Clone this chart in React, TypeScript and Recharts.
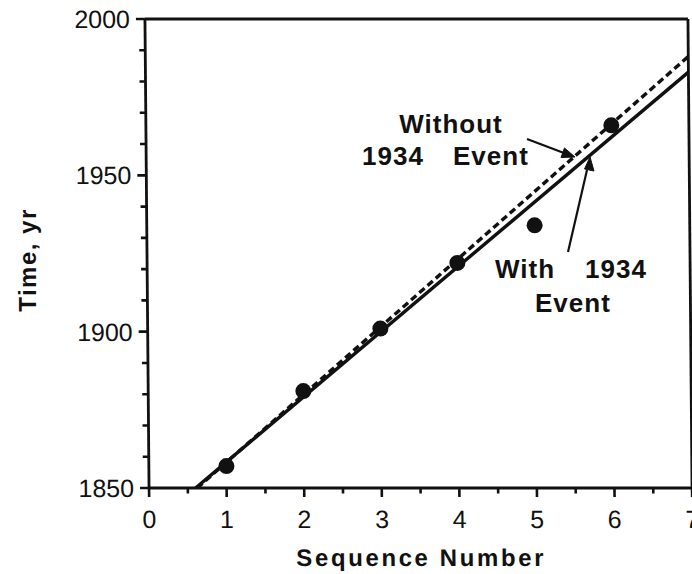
import React from 'react';
import { ComposedChart, Line, Scatter, XAxis, YAxis } from 'recharts';

// recurrence data: sequence number vs. year of event
const seqNumbers = [1, 2, 3, 4, 5, 6];
const eventYears = [1857, 1881, 1901, 1922, 1934, 1966];

// fitted lines, end points read along the axes
const withFitX = [0.6, 7];
const withFitY = [1850, 1983];
const withoutFitX = [0.62, 7];
const withoutFitY = [1850, 1988];

const xTicks = [0, 0.5, 1, 1.5, 2, 2.5, 3, 3.5, 4, 4.5, 5, 5.5, 6, 6.5, 7];
const yTicks = [1850, 1860, 1870, 1880, 1890, 1900, 1910, 1920, 1930, 1940, 1950, 1960, 1970, 1980, 1990, 2000];

const points = seqNumbers.map((s, i) => ({ x: s, y: eventYears[i] }));
const withLine = withFitX.map((x, i) => ({ x, y: withFitY[i] }));
const withoutLine = withoutFitX.map((x, i) => ({ x, y: withoutFitY[i] }));

const FONT = '"Liberation Sans", Arial, Helvetica, sans-serif';
const INK = '#111';
const TICK_W = 2.6;

// x ticks: full-length tick line from recharts, half steps get trimmed at the outer end
const BottomTick = ({ x, y, payload }: any) => {
  const v = payload.value;
  const major = Number.isInteger(v);
  return (
    <g>
      {!major && <rect x={x - 3} y={y - 3.5} width={6} height={5} fill="#fff" />}
      {major && (
        <text x={x} y={y + 31} textAnchor="middle" fontFamily={FONT} fontSize={25} fill={INK}>
          {v}
        </text>
      )}
    </g>
  );
};

const TopTick = ({ x, y, payload }: any) => {
  if (Number.isInteger(payload.value)) return <g />;
  return <rect x={x - 3} y={y - 1} width={6} height={5} fill="#fff" />;
};

const LeftTick = ({ x, y, payload }: any) => {
  const v = payload.value;
  const major = v % 50 === 0;
  return (
    <g>
      <line x1={x} y1={y} x2={x - (major ? 9 : 6)} y2={y} stroke={INK} strokeWidth={TICK_W} />
      {major && (
        <text x={x - 15} y={y + 9} textAnchor="end" fontFamily={FONT} fontSize={25} fill={INK}>
          {v}
        </text>
      )}
    </g>
  );
};

const Dot = (p: any) => <circle cx={p.cx} cy={p.cy} r={8} fill={INK} />;

const axisLine = { stroke: INK, strokeWidth: 2.8 };
const tickLine = { stroke: INK, strokeWidth: TICK_W };

export default function App() {
  return (
    <div style={{ position: 'absolute', left: 0, top: 0, width: 692, height: 574, overflow: 'hidden', background: '#fff' }}>
      <div style={{ position: 'absolute', left: 0, top: 0, transform: 'skewX(0.5deg)', transformOrigin: '50% 253px' }}>
        <ComposedChart width={693} height={574} margin={{ top: 18, right: 0, bottom: 0, left: 0 }}>
          <XAxis
            type="number"
            dataKey="x"
            domain={[0, 7]}
            ticks={xTicks}
            interval={0}
            height={86}
            tickSize={9}
            tickMargin={0}
            tickLine={tickLine}
            axisLine={axisLine}
            tick={<BottomTick />}
            label={{
              value: 'Sequence  Number',
              position: 'insideBottom',
              offset: 8,
              style: { fontFamily: FONT, fontSize: 24, fontWeight: 'bold', fill: INK, letterSpacing: 2.6, whiteSpace: 'pre' },
            }}
          />
          <XAxis
            xAxisId="top"
            orientation="top"
            type="number"
            domain={[0, 7]}
            ticks={xTicks}
            interval={0}
            height={1}
            tickSize={10}
            tickMargin={0}
            tickLine={tickLine}
            axisLine={axisLine}
            tick={<TopTick />}
          />
          <YAxis
            type="number"
            dataKey="y"
            domain={[1850, 2000]}
            ticks={yTicks}
            interval={0}
            width={147}
            tickSize={0}
            tickMargin={0}
            tickLine={false}
            axisLine={axisLine}
            tick={<LeftTick />}
          />
          <YAxis
            yAxisId="right"
            orientation="right"
            type="number"
            domain={[1850, 2000]}
            width={3}
            tick={false}
            tickLine={false}
            axisLine={axisLine}
          />
          <Line data={withoutLine} dataKey="y" stroke={INK} strokeWidth={3.4} strokeDasharray="7 4" dot={false} isAnimationActive={false} />
          <Line data={withLine} dataKey="y" stroke={INK} strokeWidth={3.4} dot={false} isAnimationActive={false} />
          <Scatter data={points} dataKey="y" fill={INK} shape={<Dot />} isAnimationActive={false} />
        </ComposedChart>
      </div>

      {/* axis title and annotations */}
      <svg width={692} height={574} style={{ position: 'absolute', left: 0, top: 0, pointerEvents: 'none' }}>
        <text
          transform="translate(36 260) rotate(-90)"
          textAnchor="middle"
          fontFamily={FONT}
          fontSize={24}
          fontWeight="bold"
          fill={INK}
          letterSpacing={1.5}
        >
          Time, yr
        </text>
        <g fontFamily={FONT} fontSize={26} fontWeight="bold" fill={INK} letterSpacing={1}>
          <text x={451} y={133} textAnchor="middle">Without</text>
          <text x={362} y={165}>1934</text>
          <text x={453} y={165}>Event</text>
          <text x={495} y={278}>With</text>
          <text x={585} y={278}>1934</text>
          <text x={535} y={312}>Event</text>
        </g>
        <g stroke={INK} strokeWidth={2.2} fill={INK}>
          <line x1={527} y1={139} x2={564} y2={153} />
          <polygon points="575,157 561,157.5 564.5,148" strokeWidth={1} />
          <line x1={568} y1={252} x2={587} y2={170} />
          <polygon points="590,157 594,171 584.5,169" strokeWidth={1} />
        </g>
      </svg>
    </div>
  );
}
